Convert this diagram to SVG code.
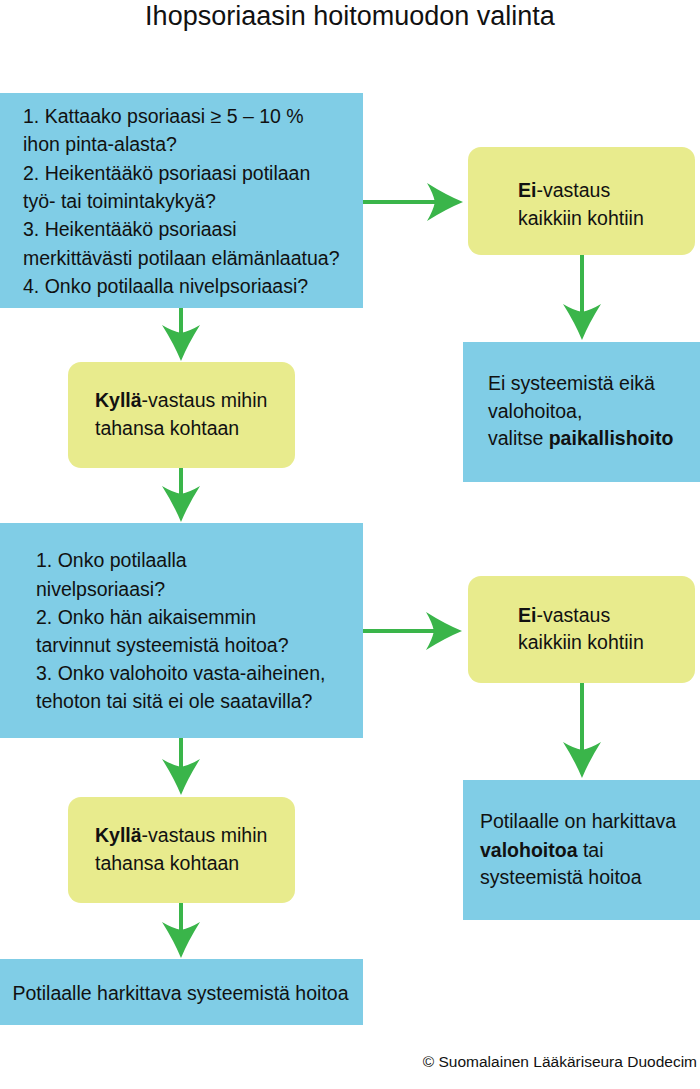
<svg xmlns="http://www.w3.org/2000/svg" width="700" height="1089" viewBox="0 0 700 1089">
<style>
text{font-family:"Liberation Sans",Arial,sans-serif;font-size:19.5px;fill:#111}
.title{font-size:27px;text-anchor:middle}
.copy{font-size:15.5px;text-anchor:end}
.b{font-weight:bold}
.blue{fill:#80CDE6}
.yel{fill:#E8EB8D}
.con{stroke:#3AB54A;stroke-width:4;fill:none;marker-end:url(#ah)}
</style>
<defs>
<marker id="ah" markerUnits="userSpaceOnUse" viewBox="-38 -21 40 42" markerWidth="40" markerHeight="42" refX="-26" refY="0" orient="auto">
<path d="M0,0 Q-17,-7 -36,-19 Q-30,-9 -28,0 Q-30,9 -36,19 Q-17,7 0,0 Z" fill="#3AB54A"/>
</marker>
</defs>
<rect width="700" height="1089" fill="#fff"/>
<text class="title" x="350" y="25">Ihopsoriaasin hoitomuodon valinta</text>

<g id="connectors">
<path class="con" d="M181,308 V335"/>
<path class="con" d="M181,468 V496"/>
<path class="con" d="M181,738 V769"/>
<path class="con" d="M181,903 V932"/>
<path class="con" d="M363,202 H437"/>
<path class="con" d="M582,255 V314"/>
<path class="con" d="M363,631 H436"/>
<path class="con" d="M582,683 V752"/>
</g>

<g id="q1">
<rect class="blue" x="0" y="93" width="363" height="215"/>
<text x="23" y="123">1. Kattaako psoriaasi ≥ 5 – 10 %</text>
<text x="23" y="151.3">ihon pinta-alasta?</text>
<text x="23" y="179.6">2. Heikentääkö psoriaasi potilaan</text>
<text x="23" y="208">työ- tai toimintakykyä?</text>
<text x="23" y="236.3">3. Heikentääkö psoriaasi</text>
<text x="23" y="264.6">merkittävästi potilaan elämänlaatua?</text>
<text x="23" y="293">4. Onko potilaalla nivelpsoriaasi?</text>
</g>

<g id="yes1">
<rect class="yel" x="68" y="362" width="227" height="106" rx="13"/>
<text x="95" y="407"><tspan class="b">Kyllä</tspan>-vastaus mihin</text>
<text x="95" y="435">tahansa kohtaan</text>
</g>

<g id="no1">
<rect class="yel" x="468" y="147" width="227" height="108" rx="13"/>
<text x="518" y="197"><tspan class="b">Ei</tspan>-vastaus</text>
<text x="518" y="225">kaikkiin kohtiin</text>
</g>

<g id="local">
<rect class="blue" x="463" y="342" width="237" height="140"/>
<text x="488" y="390">Ei systeemistä eikä</text>
<text x="488" y="418">valohoitoa,</text>
<text x="488" y="445">valitse <tspan class="b">paikallishoito</tspan></text>
</g>

<g id="q2">
<rect class="blue" x="0" y="523" width="363" height="215"/>
<text x="36" y="567">1. Onko potilaalla</text>
<text x="36" y="595.5">nivelpsoriaasi?</text>
<text x="36" y="624">2. Onko hän aikaisemmin</text>
<text x="36" y="652">tarvinnut systeemistä hoitoa?</text>
<text x="36" y="680">3. Onko valohoito vasta-aiheinen,</text>
<text x="36" y="708">tehoton tai sitä ei ole saatavilla?</text>
</g>

<g id="no2">
<rect class="yel" x="468" y="576" width="227" height="107" rx="13"/>
<text x="518" y="622"><tspan class="b">Ei</tspan>-vastaus</text>
<text x="518" y="649">kaikkiin kohtiin</text>
</g>

<g id="light">
<rect class="blue" x="463" y="780" width="237" height="140"/>
<text x="480" y="828">Potilaalle on harkittava</text>
<text x="480" y="857"><tspan class="b">valohoitoa</tspan> tai</text>
<text x="480" y="884">systeemistä hoitoa</text>
</g>

<g id="yes2">
<rect class="yel" x="68" y="797" width="227" height="106" rx="13"/>
<text x="95" y="842"><tspan class="b">Kyllä</tspan>-vastaus mihin</text>
<text x="95" y="870">tahansa kohtaan</text>
</g>

<g id="systemic">
<rect class="blue" x="0" y="959" width="363" height="66"/>
<text x="12.5" y="1000">Potilaalle harkittava systeemistä hoitoa</text>
</g>

<text class="copy" x="697" y="1067">© Suomalainen Lääkäriseura Duodecim</text>
</svg>
